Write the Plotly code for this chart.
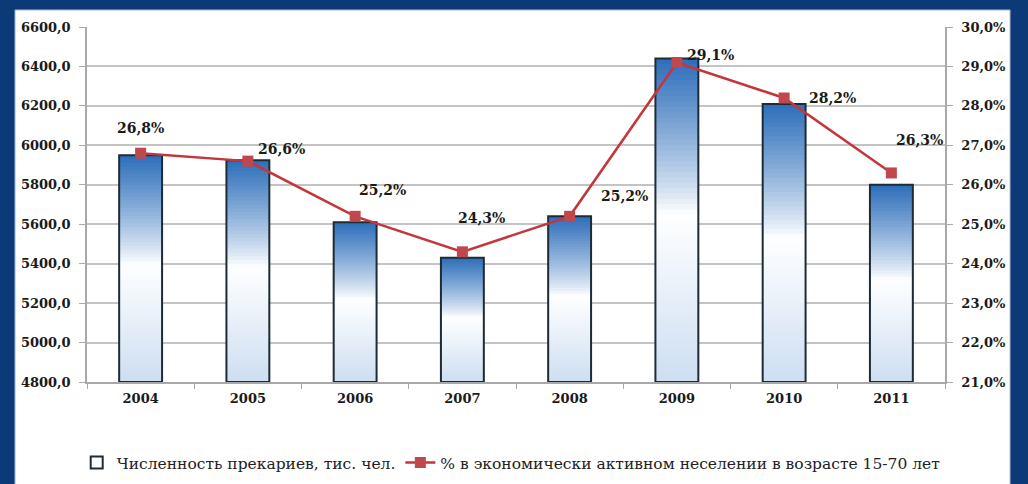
import numpy as np
import plotly.graph_objects as go

years = ["2004", "2005", "2006", "2007", "2008", "2009", "2010", "2011"]
precariat = [5950, 5925, 5610, 5430, 5640, 6440, 6210, 5800]
share_pct = [26.8, 26.6, 25.2, 24.3, 25.2, 29.1, 28.2, 26.3]
bar_name = "Численность прекариев, тис. чел."
line_name = "% в экономически активном неселении в возрасте 15-70 лет"

# label offsets (px) for value labels
label_dx = [0, 34, 27, 19, 55, 34, 48, 28]
label_dy = [25, 12, 26, 34, 20, 8, 0, 33]

Y0, Y1 = 4800, 6600
R0, R1 = 21, 30
SERIF = "DejaVu Serif"
NAVY = "#0c3a76"

fig = go.Figure()

# gradient bars drawn as overlapping slices (each slice runs to the bar top)
N = 60
top = np.array([45, 110, 186])
white = np.array([255, 255, 255])
bottom = np.array([205, 222, 242])
vals = np.array(precariat, dtype=float)
for k in range(N):
    t = (k + 0.5) / N  # 0 bottom -> 1 top
    if t > 0.52:
        f = (t - 0.52) / 0.48
        c = white + (top - white) * f ** 0.85
    else:
        f = (0.52 - t) / 0.52
        c = white + (bottom - white) * f
    c = c.round().astype(int)
    base = Y0 + (vals - Y0) * k / N
    fig.add_trace(go.Bar(
        x=years, y=vals - base, base=base,
        marker=dict(color=f"rgb({c[0]},{c[1]},{c[2]})", line=dict(width=0)),
        width=0.4, showlegend=False, hoverinfo="skip"))

fig.add_trace(go.Bar(
    x=years, y=vals - Y0, base=Y0, name=bar_name, width=0.4,
    marker=dict(color="rgba(0,0,0,0)", line=dict(color="#1d2b36", width=2))))

fig.add_trace(go.Scatter(
    x=years, y=share_pct, yaxis="y2", name=line_name, mode="lines+markers",
    line=dict(color="#c2363c", width=2.5),
    marker=dict(symbol="square", size=11, color="#c0474d")))

for i, p in enumerate(share_pct):
    fig.add_annotation(x=i, y=p, yref="y2", text=f"{p:.1f}%".replace(".", ","),
                       showarrow=False, xshift=label_dx[i], yshift=label_dy[i],
                       font=dict(family=SERIF, size=14, color="#1a1a1a", weight="bold"))

# white panel on navy background
fig.add_shape(type="rect", xref="paper", yref="paper", x0=-0.0839, x1=1.0758,
              y0=-0.32, y1=1.048, fillcolor="white",
              line=dict(color="#9fb4cc", width=1), layer="below")

tickfont = dict(family=SERIF, size=13, color="#1a1a1a", weight="bold")
fig.update_layout(
    width=1028, height=484,
    margin=dict(l=87, r=83, t=27, b=102, autoexpand=False),
    paper_bgcolor=NAVY, plot_bgcolor="white",
    barmode="overlay", bargap=0.6,
    separators=",.",
    xaxis=dict(type="category", range=[-0.5, 7.5], tickfont=tickfont, showgrid=False,
               showline=True, linecolor="#a8a8a8", linewidth=1.5, tickangle=0,
               ticks="outside", tickson="boundaries", ticklen=5, tickcolor="#a8a8a8",
               automargin=False, ticklabelstandoff=4),
    yaxis=dict(range=[Y0, Y1], dtick=200, tickformat=".1f", tickfont=tickfont,
               showgrid=True, gridcolor="#c4c4c4", gridwidth=1.5,
               showline=True, linecolor="#a8a8a8", linewidth=1.5,
               ticks="outside", ticklen=6, tickcolor="#a8a8a8", zeroline=False,
               automargin=False, ticklabelstandoff=6),
    yaxis2=dict(range=[R0, R1], dtick=1, tickformat=".1f", ticksuffix="%",
                overlaying="y", side="right", tickfont=tickfont, showgrid=False,
                showline=True, linecolor="#a8a8a8", linewidth=1.5,
                ticks="outside", ticklen=6, tickcolor="#a8a8a8", zeroline=False,
                automargin=False, ticklabelstandoff=6),
    legend=dict(orientation="h", x=-0.012, xanchor="left", y=-0.228, yanchor="middle",
                font=dict(family=SERIF, size=15.5, color="#222"),
                bgcolor="rgba(0,0,0,0)", itemwidth=30),
    showlegend=True,
)

fig.write_html(
    "out.html",
    config={"displayModeBar": False},
    post_script=("document.body.style.margin='0';"
                 "document.body.style.overflow='hidden';"
                 f"document.body.style.background='{NAVY}';"),
)
